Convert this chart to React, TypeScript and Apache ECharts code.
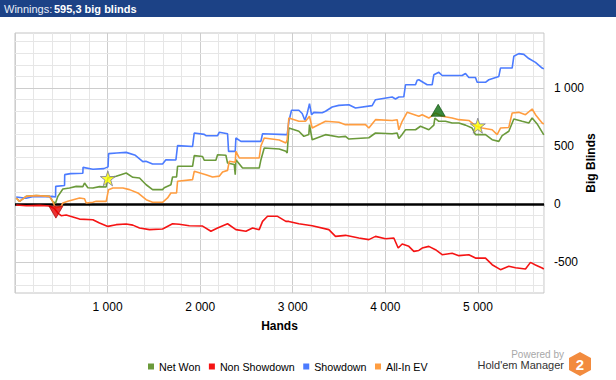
import React, { useEffect, useRef } from "react";
import * as echarts from "echarts";

const netWon: [number, number][] = [
  [13, 52], [49, 23], [121, 66], [229, 72], [373, 66], [409, 20], [438, 9], [463, 66], [517, 130], [589, 138],
  [661, 152], [733, 150], [751, 181], [787, 140], [841, 138], [913, 150], [985, 147], [1003, 224], [1093, 239],
  [1201, 267], [1273, 230], [1345, 224], [1417, 166], [1486, 124], [1594, 124], [1612, 140], [1684, 166],
  [1702, 233], [1745, 233], [1756, 325], [1918, 325], [1936, 417], [2026, 410], [2044, 377], [2170, 377],
  [2188, 425], [2278, 420], [2296, 353], [2368, 340], [2379, 253], [2386, 382], [2458, 310], [2638, 310],
  [2656, 380], [2692, 483], [2854, 474], [2926, 454], [2940, 440], [2958, 655], [3066, 627], [3120, 583],
  [3174, 600], [3181, 684], [3210, 554], [3354, 598], [3498, 577], [3570, 583], [3606, 560], [3822, 571],
  [3894, 612], [4074, 605], [4128, 612], [4146, 565], [4182, 600], [4218, 640], [4326, 640], [4380, 670],
  [4470, 640], [4524, 680], [4535, 741], [4578, 713], [4650, 713], [4722, 698], [4794, 698], [4866, 680],
  [4938, 655], [4974, 598], [5082, 598], [5154, 554], [5226, 540], [5262, 590], [5334, 627], [5388, 733],
  [5478, 713], [5550, 698], [5586, 741], [5640, 690], [5712, 595.3],
];

const nonShowdown: [number, number][] = [
  [13, -9], [121, -15], [265, -12], [373, -17], [427, -40], [463, -78], [499, -101], [553, -95], [625, -112],
  [697, -130], [841, -135], [913, -164], [1003, -193], [1093, -178], [1201, -172], [1273, -182], [1345, -207],
  [1453, -221], [1594, -215], [1666, -185], [1702, -170], [1774, -175], [1882, -187], [2026, -190],
  [2116, -235], [2188, -207], [2296, -170], [2386, -221], [2494, -235], [2566, -207], [2638, -221],
  [2674, -150], [2728, -106], [2836, -106], [2926, -150], [2958, -150], [3066, -170], [3210, -187],
  [3390, -221], [3462, -279], [3570, -270], [3714, -293], [3822, -307], [3894, -279], [4002, -300],
  [4092, -293], [4139, -379], [4182, -345], [4254, -365], [4308, -408], [4362, -400], [4398, -380],
  [4470, -365], [4542, -394], [4614, -437], [4722, -425], [4794, -445], [4902, -437], [4974, -466],
  [5082, -466], [5154, -523], [5244, -566], [5334, -537], [5406, -550], [5514, -560], [5568, -503],
  [5622, -525], [5694, -552], [5712, -560],
];

const showdown: [number, number][] = [
  [13, 60], [120, 50], [200, 65], [300, 62], [400, 66], [438, 60], [440, 152], [535, 160], [537, 253],
  [600, 262], [733, 265], [735, 316], [841, 300], [960, 305], [1005, 320], [1011, 434], [1100, 440],
  [1201, 445], [1300, 420], [1381, 365], [1414, 368], [1486, 345], [1594, 345], [1630, 382], [1738, 380],
  [1756, 503], [1918, 496], [1936, 612], [2044, 600], [2062, 589], [2188, 589], [2206, 618], [2296, 605],
  [2307, 454], [2379, 454], [2386, 569], [2440, 540], [2656, 540], [2674, 606], [2926, 598], [2940, 598],
  [2958, 713], [2987, 808], [3066, 808], [3102, 780], [3131, 722], [3156, 780], [3181, 865], [3203, 770],
  [3228, 790], [3318, 787], [3354, 800], [3426, 836], [3498, 850], [3606, 856], [3678, 828], [3858, 848],
  [3894, 899], [4074, 922], [4110, 905], [4146, 922], [4200, 925], [4218, 1028], [4326, 1028], [4344, 1066],
  [4362, 1071], [4416, 1045], [4452, 1028], [4506, 1028], [4524, 1114], [4578, 1135], [4614, 1108],
  [4830, 1108], [4866, 1125], [4902, 1091], [4974, 1091], [4992, 1049], [5082, 1049], [5118, 1071],
  [5226, 1100], [5244, 1172], [5370, 1172], [5388, 1273], [5442, 1296], [5496, 1290], [5550, 1254],
  [5622, 1221], [5694, 1172], [5712, 1165],
];

const allInEV: [number, number][] = [
  [13, 52], [49, 23], [121, 66], [229, 72], [373, 66], [409, 20], [438, -34], [499, -20], [517, 9], [571, 23],
  [697, 52], [751, 45], [769, 9], [841, 15], [877, 23], [985, 23], [1010, 124], [1057, 138], [1165, 138],
  [1237, 124], [1327, 95], [1417, 37], [1486, 15], [1594, 15], [1648, 52], [1684, 95], [1745, 95],
  [1756, 196], [1918, 210], [1936, 282], [2062, 253], [2134, 233], [2206, 240], [2242, 276], [2296, 290],
  [2314, 368], [2379, 360], [2386, 454], [2422, 397], [2638, 397], [2656, 500], [2692, 569], [2854, 552],
  [2926, 526], [2940, 554], [2958, 741], [3066, 713], [3138, 713], [3181, 756], [3210, 655], [3354, 713],
  [3498, 705], [3570, 684], [3786, 684], [3822, 655], [3894, 727], [4074, 720], [4128, 727], [4146, 640],
  [4182, 713], [4236, 790], [4362, 756], [4398, 770], [4470, 741], [4542, 784], [4614, 756], [4722, 741],
  [4794, 727], [4902, 720], [4974, 675], [5046, 655], [5154, 640], [5208, 598], [5244, 655], [5334, 660],
  [5370, 784], [5442, 790], [5514, 770], [5586, 819], [5622, 770], [5694, 698], [5712, 690],
];

const seriesNames = ["Net Won", "Non Showdown", "Showdown", "All-In EV"];
const seriesColors = ["#6b9a3b", "#f51414", "#4b7bff", "#ff9d40"];

const xLabelValues = [1000, 2000, 3000, 4000, 5000];
const yLabelValues = [-500, 0, 500, 1000];
const yGridValues = [-700, -600, -500, -400, -300, -200, -100, 100, 200, 300, 400, 500, 600, 700, 800, 900, 1000, 1100, 1200, 1300, 1400];

const starMarkers: [number, number][] = [[1003, 221], [4999, 675]];
const upMarkers: [number, number][] = [[4571, 808]];
const downMarkers: [number, number][] = [[442, -70]];

const titleLabel = "Winnings: ";
const titleValue = "595,3 big blinds";

const FONT = "'Liberation Sans', Arial, sans-serif";
const STAR = "path://M50,0 L61.8,35.1 L98.9,35.1 L69,57 L80.4,92.5 L50,70.6 L19.6,92.5 L31,57 L1.1,35.1 L38.2,35.1 Z";

function fmt(v: number): string {
  const a = Math.abs(v);
  const s = a >= 1000 ? `${Math.floor(a / 1000)} ${String(a % 1000).padStart(3, "0")}` : String(a);
  return v < 0 ? "-" + s : s;
}

export default function App() {
  const ref = useRef<HTMLDivElement>(null);
  useEffect(() => {
    if (!ref.current) return;
    const chart = echarts.init(ref.current, undefined, { renderer: "svg" });
    const dataSets = [netWon, nonShowdown, showdown, allInEV];
    const option: any = {
      animation: false,
      backgroundColor: "#ffffff",
      textStyle: { fontFamily: FONT },
      grid: {
        left: 15, top: 33, width: 529, height: 260,
        show: true, borderColor: "#c4c4c4", borderWidth: 1, backgroundColor: "#ffffff",
        containLabel: false,
      },
      xAxis: {
        type: "value", min: 0, max: 5714, interval: 200,
        name: "Hands", nameLocation: "middle", nameGap: 27,
        nameTextStyle: { fontFamily: FONT, fontSize: 12, fontWeight: "bold", color: "#000" },
        axisLine: { show: false },
        axisTick: { show: true, length: 3, lineStyle: { color: "#c4c4c4" } },
        axisLabel: {
          margin: 8, fontFamily: FONT, fontSize: 12, color: "#000",
          formatter: (v: number) => (xLabelValues.indexOf(v) >= 0 ? fmt(v) : ""),
        },
        splitLine: { show: true, lineStyle: { color: ["#cdcdcd", "#e6e6e6", "#e6e6e6", "#e6e6e6", "#e6e6e6"], width: 1 } },
      },
      yAxis: {
        type: "value", position: "right", min: -767, max: 1474, splitNumber: 4,
        name: "Big Blinds", nameLocation: "middle", nameGap: 41, nameRotate: 90, nameMoveOverlap: false,
        nameTextStyle: { fontFamily: FONT, fontSize: 12, fontWeight: "bold", color: "#000" },
        axisLine: { show: false },
        axisTick: { show: true, length: 5, customValues: yLabelValues, lineStyle: { color: "#c4c4c4" } },
        axisLabel: {
          margin: 10, fontFamily: FONT, fontSize: 12, color: "#000",
          customValues: yLabelValues,
          formatter: (v: number) => (yLabelValues.indexOf(v) >= 0 ? fmt(v) : ""),
        },
        splitLine: { show: false },
      },
      legend: {
        data: seriesNames, left: 148, top: 361, itemWidth: 6, itemHeight: 6, itemGap: 8.5,
        icon: "rect", padding: 0, selectedMode: false,
        textStyle: { fontFamily: FONT, fontSize: 10.7, color: "#000" },
      },
      graphic: [
        { type: "rect", left: 0, top: 0, shape: { width: 616, height: 17 }, style: { fill: "#1c4286" } },
        { type: "text", x: 4, y: 9, style: { text: titleLabel, fill: "#e8eef8", font: `11px ${FONT}`, verticalAlign: "middle" } },
        { type: "text", x: 54, y: 9, style: { text: titleValue, fill: "#ffffff", font: `bold 11px ${FONT}`, verticalAlign: "middle" } },
        { type: "text", x: 564, y: 354, style: { text: "Powered by", fill: "#a8a8a8", font: `10px ${FONT}`, align: "right", verticalAlign: "middle" } },
        { type: "text", x: 564, y: 365, style: { text: "Hold'em Manager", fill: "#333333", font: `11px ${FONT}`, align: "right", verticalAlign: "middle" } },
        {
          type: "polygon",
          shape: { points: [[580, 352], [591, 358], [591, 370], [580, 376], [569, 370], [569, 358]] },
          style: { fill: "#f28b3e" },
        },
        { type: "text", x: 580, y: 364.5, style: { text: "2", fill: "#ffffff", font: `bold 15px ${FONT}`, align: "center", verticalAlign: "middle" } },
      ],
      series: [
        {
          type: "line", data: [], silent: true, z: 1,
          markLine: {
            silent: true, symbol: ["none", "none"], animation: false, label: { show: false },
            data: [
              ...yGridValues.map((v) => ({ yAxis: v, lineStyle: { color: v % 500 === 0 ? "#cdcdcd" : "#e6e6e6", width: 1, type: "solid" } })),
              { yAxis: 0, lineStyle: { color: "#000000", width: 2.5, type: "solid" } },
            ],
          },
        },
        ...seriesNames.map((name, i) => ({
          name, type: "line", data: dataSets[i], symbol: "none", showSymbol: false, z: 10,
          lineStyle: { color: seriesColors[i], width: 1.6 },
          itemStyle: { color: seriesColors[i] },
        })),
        {
          type: "scatter", data: starMarkers, symbol: STAR, symbolSize: 15, z: 12,
          itemStyle: { color: "#ffff00", borderColor: "#7a7a9a", borderWidth: 1 },
        },
        {
          type: "scatter", data: upMarkers, symbol: "triangle", symbolSize: [14, 12], z: 12,
          itemStyle: { color: "#0b6b0b", borderColor: "#064a06", borderWidth: 0.8 },
        },
        {
          type: "scatter", data: downMarkers, symbol: "triangle", symbolRotate: 180, symbolSize: [14, 12], z: 12,
          itemStyle: { color: "#e60000", borderColor: "#a00000", borderWidth: 0.8 },
        },
      ],
    };
    chart.setOption(option);
    return () => chart.dispose();
  }, []);
  return <div ref={ref} style={{ position: "fixed", left: 0, top: 0, width: 616, height: 380 }} />;
}
